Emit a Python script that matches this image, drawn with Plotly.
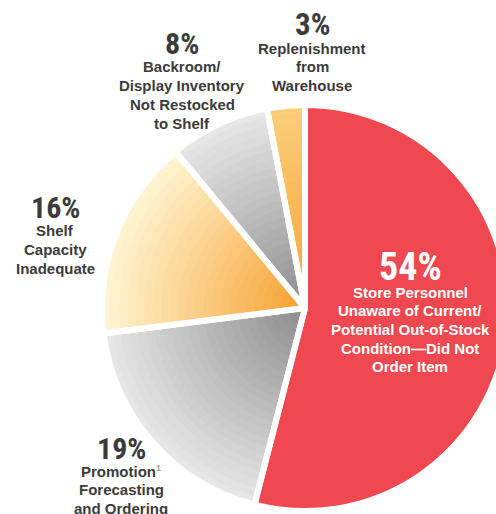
import plotly.graph_objects as go

# Causes of out-of-stock situations (share of occurrences, %)
causes = [
    "Store Personnel Unaware of Current/Potential Out-of-Stock Condition—Did Not Order Item",
    "Promotion Forecasting and Ordering",
    "Shelf Capacity Inadequate",
    "Backroom/Display Inventory Not Restocked to Shelf",
    "Replenishment from Warehouse",
]
shares = [54, 19, 16, 8, 3]
label_lines = [
    ["Store Personnel", "Unaware of Current/", "Potential Out-of-Stock", "Condition\u2014Did Not", "Order Item"],
    ["Promotion<sup><span style='color:#a0a0a0;font-size:9px'>1</span></sup>", "Forecasting", "and Ordering"],
    ["Shelf", "Capacity", "Inadequate"],
    ["Backroom/", "Display Inventory", "Not Restocked", "to Shelf"],
    ["Replenishment", "from", "Warehouse"],
]
slice_kind = ["red", "gray", "orange", "gray", "orange_small"]

# Canvas and pie geometry (pixels)
W, H = 520, 514
CX, CY, R = 305, 308, 203

# Inner (centre) and outer (rim) shade of each slice style
SHADES = {
    "red": ((239, 72, 80), (239, 72, 80)),
    "gray": ((140, 140, 140), (232, 232, 232)),
    "orange": ((246, 160, 44), (255, 246, 214)),
    "orange_small": ((246, 165, 52), (250, 206, 122)),
}


def mix(a, b, t):
    return "rgb(%d,%d,%d)" % tuple(round(a[i] + (b[i] - a[i]) * t) for i in range(3))


def slice_color(kind, t):
    inner, outer = SHADES[kind]
    return mix(inner, outer, t)


def domain(r):
    return dict(
        x=[(CX - r) / W, (CX + r) / W],
        y=[(H - CY - r) / H, (H - CY + r) / H],
    )


fig = go.Figure()

# Radial shading: stacked discs from the outer edge toward the centre
N_RINGS = 24
for i in range(N_RINGS, 0, -1):
    r = R * i / N_RINGS
    t = (i - 0.5) / N_RINGS
    fig.add_trace(go.Pie(
        labels=causes, values=shares, sort=False, direction="clockwise", rotation=0,
        domain=domain(r), textinfo="none", hoverinfo="skip", showlegend=False,
        marker=dict(colors=[slice_color(k, t) for k in slice_kind], line=dict(width=0)),
    ))

# White separators between slices
fig.add_trace(go.Pie(
    labels=causes, values=shares, sort=False, direction="clockwise", rotation=0,
    domain=domain(R), textinfo="none", hoverinfo="label+percent", showlegend=False,
    marker=dict(colors=["rgba(0,0,0,0)"] * len(shares), line=dict(color="white", width=6)),
))

# Label placement (pixel centres): percentage, then first description line
pct_pos = [(410, 267), (121, 448), (55, 207), (182, 43), (312, 24)]
desc_pos = [(410, 292), (121, 471), (55, 231), (182, 67), (312, 48)]
text_col = ["white", "#3b3b3b", "#3b3b3b", "#3b3b3b", "#3b3b3b"]
pct_size = [38, 30, 30, 30, 31]
LINE_STEP = 18.7

NUM_FONT = "Roboto Condensed, Liberation Sans Narrow, Liberation Sans, sans-serif"
TXT_FONT = "Liberation Sans, Arial, sans-serif"


def paper(x, y):
    return x / W, 1 - y / H


for k in range(len(shares)):
    ax, ay = paper(*pct_pos[k])
    fig.add_annotation(
        x=ax, y=ay, xref="paper", yref="paper", showarrow=False,
        text="%d%%" % shares[k], xanchor="center", yanchor="middle",
        font=dict(family=NUM_FONT, size=pct_size[k], color=text_col[k], weight="bold"),
    )
    dx, dy = desc_pos[k]
    for j, line in enumerate(label_lines[k]):
        lx, ly = paper(dx, dy + j * LINE_STEP)
        fig.add_annotation(
            x=lx, y=ly, xref="paper", yref="paper", showarrow=False,
            text=line, xanchor="center", yanchor="middle",
            font=dict(family=TXT_FONT, size=15, color=text_col[k], weight="bold"),
        )

fig.update_layout(
    width=W, height=H,
    margin=dict(l=0, r=0, t=0, b=0),
    paper_bgcolor="white", plot_bgcolor="white",
    showlegend=False,
)

fig.write_html("out.html")
